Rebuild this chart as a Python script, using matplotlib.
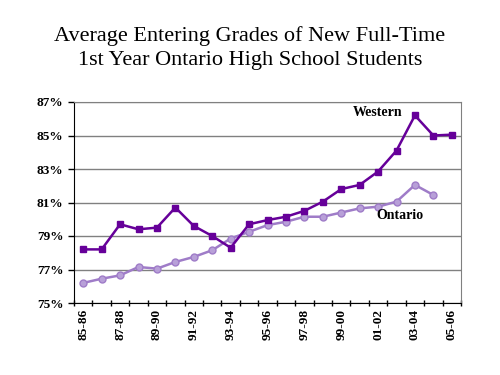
import numpy as np
import matplotlib
matplotlib.use('Agg')
import matplotlib.pyplot as plt
from matplotlib.ticker import FuncFormatter

plt.rcParams['font.family'] = ['Liberation Serif', 'DejaVu Serif']

years = ['85-86', '86-87', '87-88', '88-89', '89-90', '90-91', '91-92',
         '92-93', '93-94', '94-95', '95-96', '96-97', '97-98', '98-99',
         '99-00', '00-01', '01-02', '02-03', '03-04', '04-05', '05-06']
western = [78.2, 78.2, 79.7, 79.4, 79.5, 80.7, 79.6, 79.0, 78.3, 79.7, 79.95,
           80.15, 80.5, 81.05, 81.8, 82.05, 82.85, 84.1, 86.2, 85.0, 85.05]
ontario = [76.2, 76.45, 76.65, 77.15, 77.05, 77.45, 77.75, 78.15, 78.85, 79.25,
           79.65, 79.85, 80.15, 80.15, 80.4, 80.65, 80.75, 81.05, 82.05, 81.45]
y_ticks = [75, 77, 79, 81, 83, 85, 87]

W_COLOR = '#660099'
O_COLOR = '#9F7CC8'

fig = plt.figure(figsize=(5, 3.75), dpi=100)
ax = fig.add_axes([0.148, 0.192, 0.774, 0.536])

x = np.arange(len(years))
ax.plot(x[:len(ontario)], ontario, color=O_COLOR, lw=1.8, marker='o', ms=5,
        mfc='#B8A0D8', mec=O_COLOR, zorder=3)
ax.plot(x, western, color=W_COLOR, lw=1.8, marker='s', ms=4.5,
        mfc=W_COLOR, mec=W_COLOR, zorder=4)

ax.set_xlim(-0.5, len(years) - 0.5)
ax.set_ylim(75, 87)
ax.set_yticks(y_ticks)
ax.yaxis.set_major_formatter(FuncFormatter(lambda v, p: '%d%%' % round(v)))
ax.grid(axis='y', color='#808080', lw=1)
ax.set_axisbelow(True)

ax.set_xticks(np.arange(-0.5, len(years)), minor=False)
ax.set_xticklabels([])
ax.set_xticks(x[::2], minor=True)
ax.set_xticklabels(years[::2], minor=True, rotation=90, fontweight='bold', fontsize=9.5)
ax.tick_params(axis='x', which='minor', length=0, pad=4)
ax.tick_params(axis='x', which='major', length=5, direction='inout', width=1)
ax.tick_params(axis='y', length=4, width=1, labelsize=9.5)
for lab in ax.get_yticklabels():
    lab.set_fontweight('bold')

ax.spines['top'].set_color('#808080')
ax.spines['right'].set_color('#808080')

ax.text(16.0, 86.4, 'Western', ha='center', va='center', fontsize=10, fontweight='bold')
ax.text(17.2, 80.25, 'Ontario', ha='center', va='center', fontsize=10, fontweight='bold')

fig.text(0.5, 0.872, 'Average Entering Grades of New Full-Time\n1st Year Ontario High School Students',
         ha='center', va='center', fontsize=16, linespacing=1.3)

fig.savefig('out.png', dpi=100)
